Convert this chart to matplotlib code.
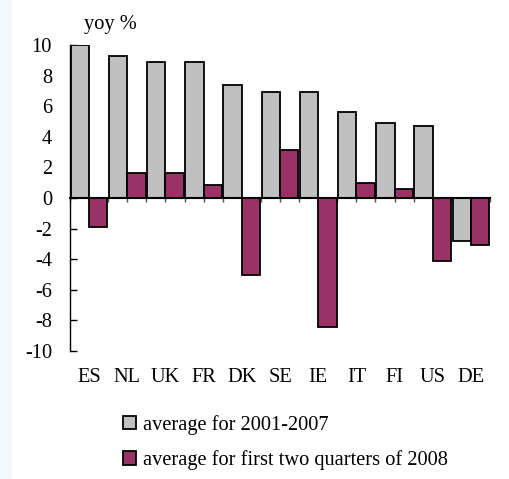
import matplotlib
matplotlib.use("Agg")
import matplotlib.pyplot as plt
import numpy as np
from matplotlib.patches import Rectangle

categories = ["ES", "NL", "UK", "FR", "DK", "SE", "IE", "IT", "FI", "US", "DE"]
avg_2001_2007 = [10.0, 9.3, 8.9, 8.9, 7.4, 6.9, 6.9, 5.6, 4.9, 4.7, -2.8]
avg_2008_h1 = [-1.9, 1.65, 1.65, 0.85, -5.05, 3.15, -8.4, 0.95, 0.6, -4.15, -3.1]
yticks = [10, 8, 6, 4, 2, 0, -2, -4, -6, -8, -10]

plt.rcParams['font.family'] = ['Liberation Serif', 'DejaVu Serif']
FS = 14.7

W, H = 509, 479
fig = plt.figure(figsize=(W / 100, H / 100), dpi=100)
fig.patches.append(Rectangle((0, 0), 12 / W, 1, transform=fig.transFigure,
                             facecolor="#F3F9FF", edgecolor="none", zorder=-10))

ax_left, ax_right = 70 / W, 490 / W
ax_top, ax_bot = 1 - 45 / H, 1 - 351 / H
ax = fig.add_axes([ax_left, ax_bot, ax_right - ax_left, ax_top - ax_bot])

n = len(categories)
x = np.arange(n)
bw = 0.48
ax.bar(x - bw / 2, avg_2001_2007, width=bw, color="#C0C0C0", edgecolor="black",
       linewidth=1.3, label="average for 2001-2007", zorder=2)
ax.bar(x + bw / 2, avg_2008_h1, width=bw, color="#993366", edgecolor="black",
       linewidth=1.3, label="average for first two quarters of 2008", zorder=2)

ax.set_xlim(-0.5, n - 0.5)
ax.set_ylim(-10, 10)
ax.set_yticks(yticks)
ax.set_yticklabels([str(v) for v in yticks], fontsize=FS)
ax.tick_params(axis="y", direction="in", length=5, width=1, pad=13)

for s in ["top", "right"]:
    ax.spines[s].set_visible(False)
ax.spines["left"].set_linewidth(1)
ax.spines["bottom"].set_position(("data", 0))
ax.spines["bottom"].set_linewidth(1.5)
ax.spines["bottom"].set_zorder(3)

# x ticks at every half-category along the zero line
ax.set_xticks(np.arange(-0.5, n, 0.5))
ax.set_xticklabels([])
ax.tick_params(axis="x", direction="out", length=3, width=1, color="#555555")

for i, c in enumerate(categories):
    ax.text(i, -11.75, c, ha="center", va="center", fontsize=FS)

fig.text(84 / W, 1 - 25 / H, "yoy %", ha="left", va="center", fontsize=FS)

leg = fig.legend(loc="upper left", bbox_to_anchor=(123 / W, 1 - 415 / H),
                 frameon=False, fontsize=FS, handlelength=0.62, handleheight=0.62,
                 handletextpad=0.35, labelspacing=0.75, borderpad=0,
                 borderaxespad=0)

fig.savefig("out.png", dpi=100)
